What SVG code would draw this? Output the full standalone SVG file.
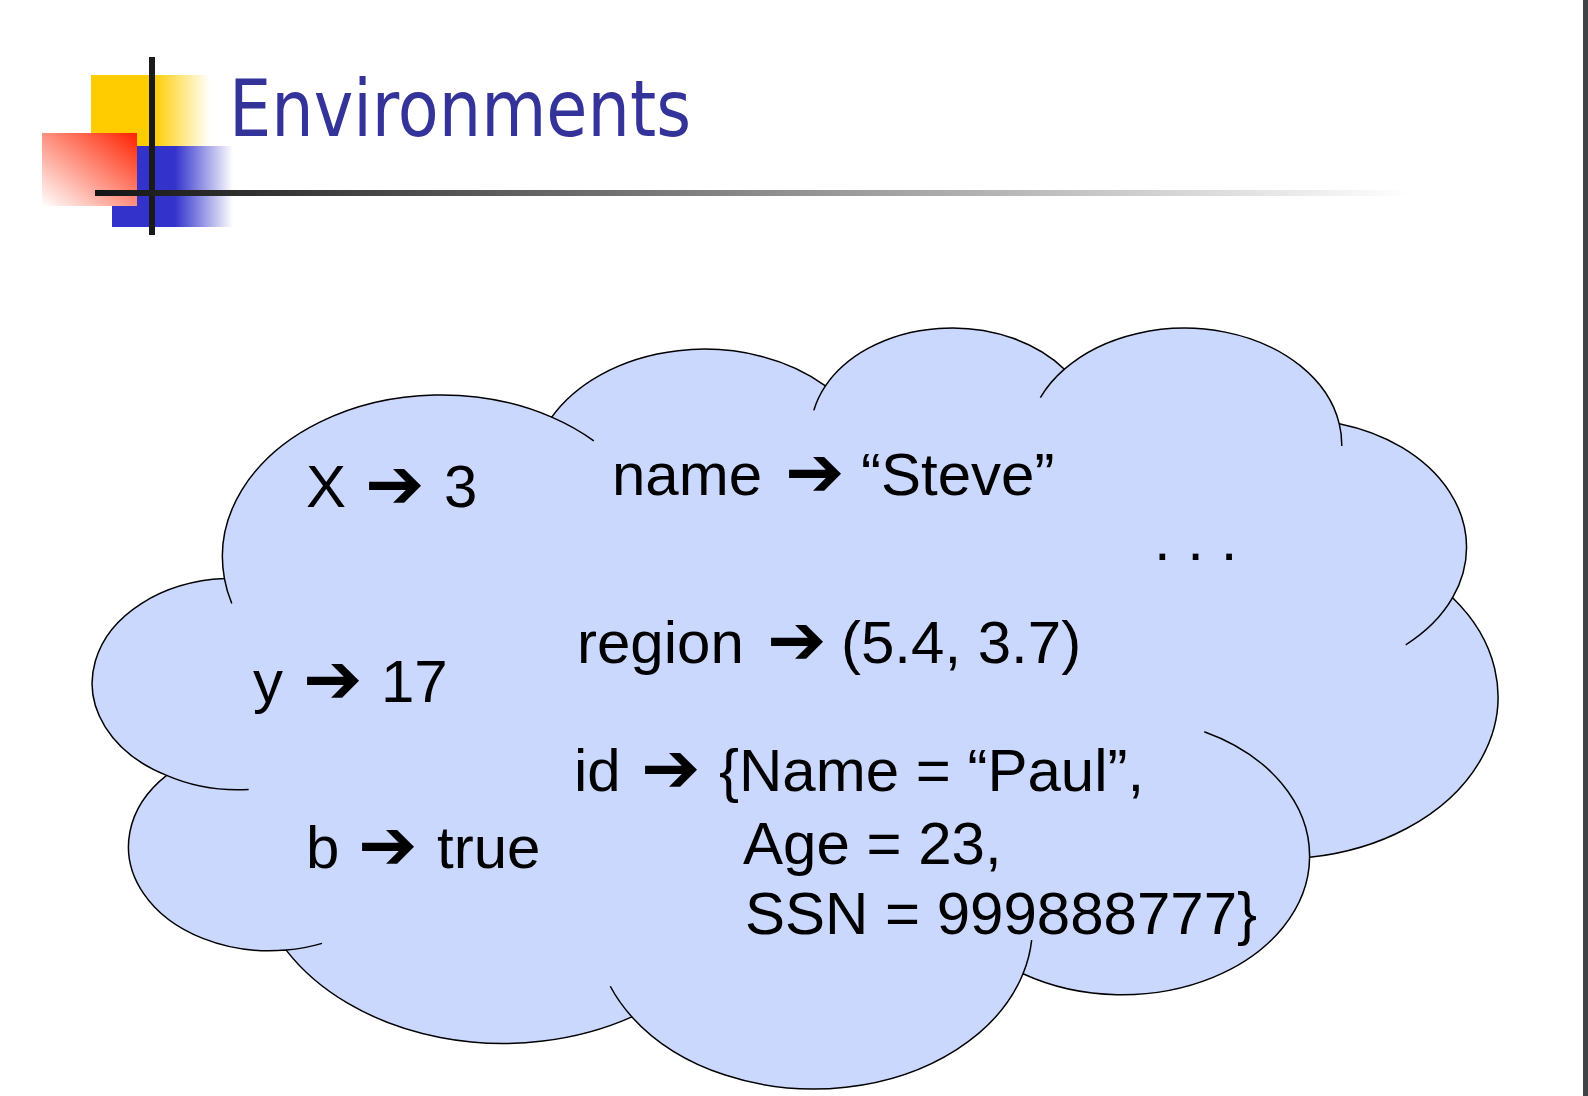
<svg xmlns="http://www.w3.org/2000/svg" width="1588" height="1096" viewBox="0 0 1588 1096">
<defs>
<linearGradient id="gy" x1="0" y1="0" x2="1" y2="0"><stop offset="0" stop-color="#FFCC00"/><stop offset="0.52" stop-color="#FFCC00"/><stop offset="1" stop-color="#FFFFFF"/></linearGradient>
<linearGradient id="gb" x1="0" y1="0" x2="1" y2="0"><stop offset="0" stop-color="#3333CC"/><stop offset="0.52" stop-color="#3333CC"/><stop offset="1" stop-color="#FFFFFF"/></linearGradient>
<linearGradient id="gr" x1="1" y1="0" x2="0" y2="1"><stop offset="0" stop-color="#FF2200"/><stop offset="1" stop-color="#FFFFFF"/></linearGradient>
<linearGradient id="gl" gradientUnits="userSpaceOnUse" x1="95" y1="0" x2="1410" y2="0"><stop offset="0" stop-color="#151515"/><stop offset="1" stop-color="#FFFFFF"/></linearGradient>
<style>
.t{font-family:"Liberation Sans",Arial,sans-serif;font-size:60px;fill:#000}
.a{font-family:"DejaVu Sans",sans-serif;font-size:71px;fill:#000}
.cl{fill:#CBD8FE;stroke:none}
.ln{fill:none;stroke:#000;stroke-width:1.5}
</style>
</defs>
<rect width="1588" height="1096" fill="#FFFFFF"/>
<rect x="1583" y="0" width="5" height="1096" fill="#404346"/>
<g id="logo">
<rect x="91" y="75" width="119" height="71" fill="url(#gy)"/>
<rect x="112" y="146" width="121" height="81" fill="url(#gb)"/>
<rect x="42" y="133" width="95" height="73" fill="url(#gr)"/>
<rect x="149" y="57" width="6" height="178" fill="#1A1A1A"/>
<rect x="95" y="190" width="1315" height="6" fill="url(#gl)"/>
</g>
<g id="title">
<text x="229" y="136" font-family="'DejaVu Sans',Verdana,sans-serif" font-size="79" fill="#333399" textLength="462" lengthAdjust="spacingAndGlyphs">Environments</text>
</g>
<g id="cloud">
<g transform="translate(98.1,325.5) scale(0.03239,0.017609)">
<path class="cl" d="M3900 14370 A6753 9190 0 0 1 14005 5202 A5333 7267 0 0 1 22456 3432 A4365 5945 0 0 1 29833 2481 A4857 6595 0 0 1 38318 5576 A5333 7273 0 0 1 41818 15460 A6775 9220 0 0 1 37404 30203 A5785 7867 0 0 1 28556 36813 A6752 9215 0 0 1 16481 39264 A7720 10543 0 0 1 5806 35470 A4360 5918 0 0 1 2115 25548 A4345 5945 0 0 1 3900 14370 Z"/>
<path class="ln" vector-effect="non-scaling-stroke" d="M3900 14370 A6753 9190 0 0 1 14005 5202 A5333 7267 0 0 1 22456 3432 A4365 5945 0 0 1 29833 2481 A4857 6595 0 0 1 38318 5576 A5333 7273 0 0 1 41818 15460 A6775 9220 0 0 1 37404 30203 A5785 7867 0 0 1 28556 36813 A6752 9215 0 0 1 16481 39264 A7720 10543 0 0 1 5806 35470 A4360 5918 0 0 1 2115 25548 A4345 5945 0 0 1 3900 14370 Z"/>
<path class="ln" vector-effect="non-scaling-stroke" d="M4648 26345 A4345 5945 0 0 1 2115 25548 M6914 35088 A4360 5918 0 0 1 5806 35470 M16481 39264 A6752 9215 0 0 1 15813 37524 M28823 34904 A6752 9215 0 0 1 28556 36813 M34152 23067 A5785 7867 0 0 1 37404 30203 M41818 15460 A5333 7273 0 0 1 40371 18136 M38318 5576 A4857 6595 0 0 1 38395 6840 M29091 4092 A4857 6595 0 0 1 29833 2481 M22097 4822 A4365 5945 0 0 1 22456 3432 M14005 5202 A6753 9190 0 0 1 15305 6550 M4127 15789 A6753 9190 0 0 1 3900 14370"/>
</g>
</g>
<g id="env-x"><text class="t" x="306" y="507">X</text><text class="a" x="365" y="508">➔</text><text class="t" x="444" y="507">3</text></g>
<g id="env-name"><text class="t" x="612" y="495">name</text><text class="a" x="785" y="496">➔</text><text class="t" x="861" y="495">“Steve”</text></g>
<g id="env-dots"><text class="t" x="1154" y="560">. . .</text></g>
<g id="env-region"><text class="t" x="577" y="663">region</text><text class="a" x="767" y="664">➔</text><text class="t" x="841" y="663">(5.4, 3.7)</text></g>
<g id="env-y"><text class="t" x="253" y="702">y</text><text class="a" x="303" y="703">➔</text><text class="t" x="381" y="702">17</text></g>
<g id="env-id"><text class="t" x="574" y="791">id</text><text class="a" x="641" y="792">➔</text><text class="t" x="719" y="791">{Name = “Paul”,</text><text class="t" x="743" y="864">Age = 23,</text><text class="t" x="745" y="934">SSN = 999888777}</text></g>
<g id="env-b"><text class="t" x="306" y="868">b</text><text class="a" x="358" y="869">➔</text><text class="t" x="437" y="868">true</text></g>
</svg>
